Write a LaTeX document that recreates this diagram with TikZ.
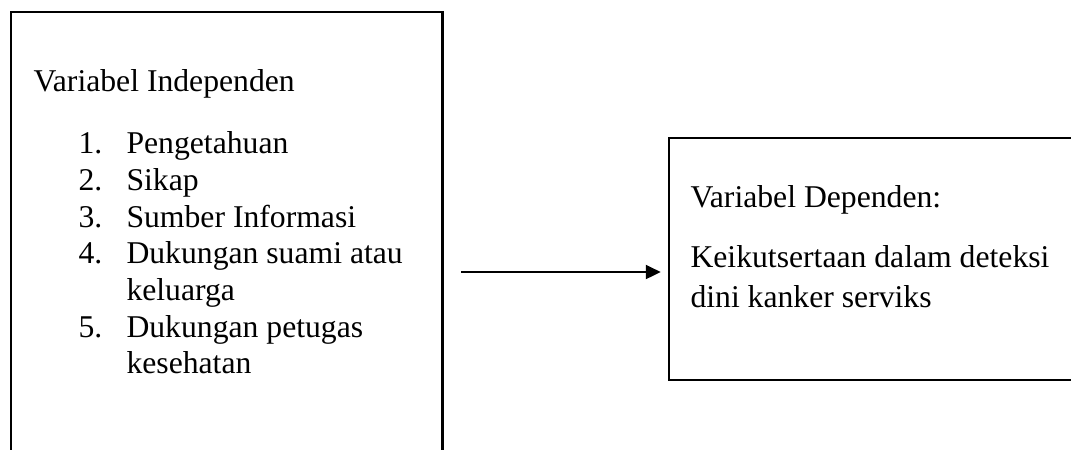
\documentclass[tikz,border=0pt]{standalone}
\usepackage{fontspec}
\setmainfont{Liberation Serif}
\usetikzlibrary{arrows.meta}
\begin{document}
\begin{tikzpicture}[x=0.3788pt, y=-0.3788pt,
		kotak/.style={draw, line width=0.8pt, inner sep=0pt, anchor=north west},
		teks/.style={anchor=base west, inner sep=0pt, font=\fontsize{12}{13.8}\selectfont},
		panah/.style={-{Triangle[length=5.6pt, width=5.4pt]}, line width=0.5pt}]
		\useasboundingbox (0,0) rectangle (1071,449);
		\clip (0,0) rectangle (1071,449);
		
		% kotak variabel
		\node[kotak, minimum width=163.6pt, minimum height=180pt] (independen) at (9.5,11) {};
		\node[kotak, minimum width=163.6pt, minimum height=91.7pt] (dependen) at (668,137) {};
		
		% isi kotak kiri
		\node[teks] (judulkiri) at (33,91) {Variabel Independen};
		\foreach \y/\no/\isi in {153/1/Pengetahuan, 190/2/Sikap, 227/3/Sumber Informasi, 263/4/Dukungan suami atau, 337/5/Dukungan petugas}{
			\node[teks] (no\no) at (78,\y) {\no.};
			\node[teks] (isi\no) at (126,\y) {\isi};
		}
		\node[teks] (lanjut4) at (126,300) {keluarga};
		\node[teks] (lanjut5) at (126,373) {kesehatan};
		
		% isi kotak kanan
		\node[teks] (judulkanan) at (690,207) {Variabel Dependen:};
		\node[teks] (baris1) at (690,267) {Keikutsertaan dalam deteksi};
		\node[teks] (baris2) at (690,307) {dini kanker serviks};
		
		% panah
		\coordinate (pangkal) at (461,272);
		\draw[panah, shorten >=2.8pt] (pangkal) -- (dependen.west |- pangkal);
	\end{tikzpicture}
\end{document}
